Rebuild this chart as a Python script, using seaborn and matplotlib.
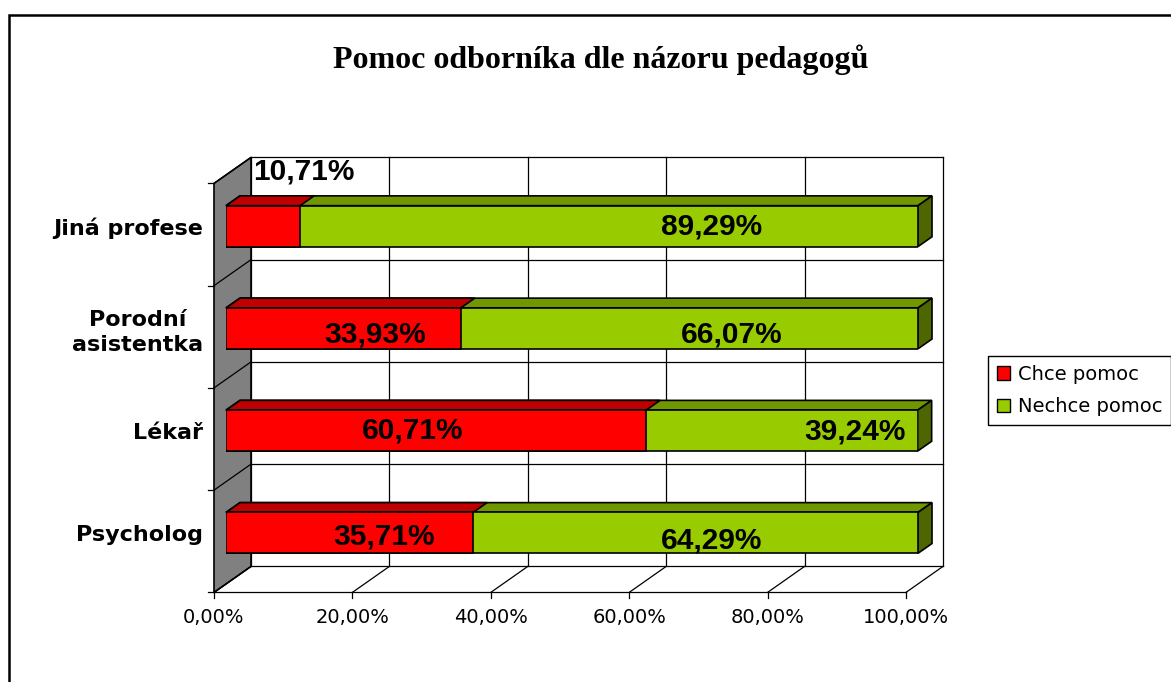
# Stacked 3D-looking bar chart (Excel style) - help from experts according to teachers
import numpy as np
import pandas as pd
import matplotlib
matplotlib.use('Agg')
import matplotlib.pyplot as plt
import matplotlib.transforms as mtransforms
from matplotlib.patches import Polygon, Rectangle
from matplotlib.lines import Line2D
import seaborn as sns

# Step 1: data
categories = ["Jiná profese", "Porodní\nasistentka", "Lékař", "Psycholog"]
chce = [10.71, 33.93, 60.71, 35.71]
nechce = [89.29, 66.07, 39.24, 64.29]
series_names = ["Chce pomoc", "Nechce pomoc"]
x_ticks = [0, 20, 40, 60, 80, 100]
title = "Pomoc odborníka dle názoru pedagogů"

# where Excel put the value labels (x in %, y in category units)
chce_label_pos = [(11.3, -0.53), (21.6, 1.06), (27.0, 2.0), (22.8, 3.04)]
nechce_label_pos = [(70.2, 0.0), (73.1, 1.06), (90.9, 2.01), (70.2, 3.07)]

# Step 2: colours
red_front, red_top = '#FF0000', '#C00000'
green_front, green_top, green_side = '#99CC00', '#719700', '#4D6600'
wall_grey = '#808080'

plt.rcParams['font.family'] = ['DejaVu Sans']

df = pd.DataFrame({'cat': categories, 'chce': chce,
                   'total': np.array(chce) + np.array(nechce)})

DPI = 100
fig = plt.figure(figsize=(11.71, 6.82), dpi=DPI)
ax = fig.add_axes([226 / 1171, 1 - 584 / 682, 692 / 1171, 409 / 682])

# Step 3: front faces of the bars (green = full length, red on top of it)
sns.barplot(data=df, x='total', y='cat', color=green_front, saturation=1,
            width=0.4, edgecolor='black', linewidth=1.2, orient='h', ax=ax)
n_green = len(ax.patches)
sns.barplot(data=df, x='chce', y='cat', color=red_front, saturation=1,
            width=0.4, edgecolor='black', linewidth=1.2, orient='h', ax=ax)
ax.set_xlim(0, 100)
ax.set_ylim(3.5, -0.5)
ax.set_xlabel('')
ax.set_ylabel('')
for s in ax.spines.values():
    s.set_visible(False)
ax.set_xticks([])
ax.tick_params(axis='y', length=0, pad=16.5)
ax.set_yticks(range(len(categories)))
ax.set_yticklabels(categories, fontsize=16, fontweight='bold')
for lbl in ax.get_yticklabels():
    lbl.set_multialignment('center')
    lbl.set_linespacing(1.3)
ax.patch.set_visible(False)

# depth offsets in pixels (front of bars -> back wall / front of floor / bar depth)
BACK = (25, 17.6)
FRONT = (-12, -8.4)
DEPTH = (14, 9.8)
ident = mtransforms.IdentityTransform()


def px(x, y, off=(0, 0)):
    X, Y = ax.transData.transform((x, y))
    return X + off[0], Y + off[1]


def seg(p, q, **kw):
    kw.setdefault('color', 'black')
    kw.setdefault('lw', 0.9)
    kw.setdefault('zorder', 0.5)
    ax.add_line(Line2D([p[0], q[0]], [p[1], q[1]], transform=ident,
                       clip_on=False, **kw))


def face(pts, color, z):
    ax.add_patch(Polygon(pts, closed=True, facecolor=color, edgecolor='black',
                         lw=1.2, transform=ident, zorder=z, clip_on=False))


top_b, bot_b = -0.5, 3.5

# Step 4: back wall grid
for t in x_ticks:
    seg(px(t, top_b, BACK), px(t, bot_b, BACK), zorder=0.2)
for b in np.arange(top_b, bot_b + 0.5, 1.0):
    seg(px(0, b, BACK), px(100, b, BACK), zorder=0.2)

# Step 5: left wall (grey) with its tick lines
face([px(0, top_b, FRONT), px(0, bot_b, FRONT),
      px(0, bot_b, BACK), px(0, top_b, BACK)], wall_grey, 0.4)
for b in np.arange(top_b, bot_b + 0.5, 1.0):
    seg(px(0, b, FRONT), px(0, b, BACK))
    X, Y = px(0, b, FRONT)
    seg((X - 6, Y), (X, Y))

# Step 6: floor lines, ticks and tick labels
seg(px(0, bot_b, FRONT), px(100, bot_b, FRONT))
for t in x_ticks:
    seg(px(t, bot_b, FRONT), px(t, bot_b, BACK), zorder=0.3)
    X, Y = px(t, bot_b, FRONT)
    seg((X, Y), (X, Y - 6))
    fig.text(X / (11.71 * DPI), (Y - 25) / (6.82 * DPI),
             f"{t:.2f}%".replace('.', ','), ha='center', va='center',
             fontsize=14)

# Step 7: top and side faces of the bars
for i, p in enumerate(ax.patches[:]):
    if not isinstance(p, Rectangle):
        continue
    bb = p.get_bbox().transformed(ax.transData)
    x0, x1, y0, y1 = bb.xmin, bb.xmax, bb.ymin, bb.ymax
    dx, dy = DEPTH
    is_green = i < n_green
    p.set_zorder(2.1 if is_green else 2.2)
    face([(x0, y1), (x1, y1), (x1 + dx, y1 + dy), (x0 + dx, y1 + dy)],
         green_top if is_green else red_top, 1.8 if is_green else 1.9)
    if is_green:
        face([(x1, y0), (x1, y1), (x1 + dx, y1 + dy), (x1 + dx, y0 + dy)],
             green_side, 1.8)

# Step 8: value labels
for vals, pos in [(chce, chce_label_pos), (nechce, nechce_label_pos)]:
    for v, (lx, ly) in zip(vals, pos):
        ax.text(lx, ly, f"{v:.2f}%".replace('.', ','), ha='center', va='center',
                family=['Liberation Sans'], fontsize=21.5, fontweight='bold',
                zorder=5, clip_on=False)

# Step 9: title, legend and outer frame
fig.text(601 / 1171, 1 - 60 / 682, title, ha='center', va='center',
         family=['Liberation Serif', 'DejaVu Serif'], fontweight='bold', fontsize=23)

handles = [Rectangle((0, 0), 1, 1, facecolor=red_front, edgecolor='black', lw=1),
           Rectangle((0, 0), 1, 1, facecolor=green_front, edgecolor='black', lw=1)]
leg = fig.legend(handles, series_names, loc='upper left',
                 bbox_to_anchor=(988 / 1171, 1 - 356 / 682), frameon=True,
                 fancybox=False, edgecolor='black', framealpha=1, fontsize=14,
                 borderaxespad=0, borderpad=0.45, handlelength=0.7,
                 handleheight=0.7, handletextpad=0.4, labelspacing=0.7)
leg.get_frame().set_linewidth(1)

fig.add_artist(Rectangle((9 / 1171, -0.1), 1.2, 1.1 - 15 / 682, fill=False,
                         edgecolor='black', lw=1.8, transform=fig.transFigure))

fig.savefig('out.png', dpi=DPI)
